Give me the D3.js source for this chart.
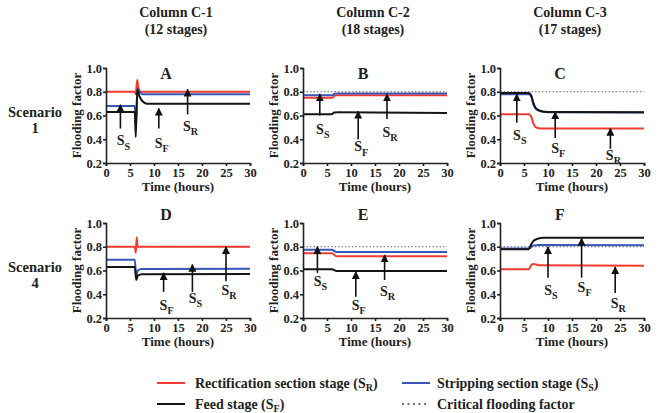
<!DOCTYPE html>
<html>
<head>
<meta charset="utf-8">
<script src="https://cdn.jsdelivr.net/npm/d3@7"></script>
<style>
  body { margin: 0; background: #fff; }
  svg text { font-family: "Liberation Serif", "Times New Roman", serif; font-weight: bold; fill: #222; }
</style>
</head>
<body>
<div id="vis"></div>
<script>
// ---- data (time in hours, flooding factor) ----
var columnTitles = ["Column C-1", "Column C-2", "Column C-3"];
var columnStages = ["(12 stages)", "(18 stages)", "(17 stages)"];
var scenarioNames = ["1", "4"];
var panelLetters = ["A", "B", "C", "D", "E", "F"];
var xTicks = [0, 5, 10, 15, 20, 25, 30];
var yTicks = [0.2, 0.4, 0.6, 0.8, 1.0];
var criticalFlooding = 0.8;

// scenario 1
var A_rect = [[0,0.80],[6,0.80],[6.2,0.78],[6.5,0.90],[6.8,0.82],[7.2,0.80],[30,0.80]];
var A_strip = [[0,0.68],[6,0.68],[6.2,0.50],[6.6,0.83],[7.0,0.80],[7.5,0.78],[30,0.78]];
var A_feed = [[0,0.63],[6,0.63],[6.2,0.42],[6.5,0.82],[7.0,0.76],[7.6,0.72],[8.5,0.70],[30,0.70]];

var B_rect = [[0,0.75],[6,0.75],[6.8,0.77],[30,0.77]];
var B_strip = [[0,0.77],[6,0.77],[6.8,0.785],[30,0.785]];
var B_feed = [[0,0.61],[6,0.61],[6.5,0.625],[7.5,0.628],[30,0.622]];

var C_rect = [[0,0.61],[6,0.61],[6.5,0.59],[7,0.53],[7.5,0.50],[8.5,0.49],[30,0.49]];
var C_strip = [[0,0.78],[6,0.78],[6.5,0.76],[7,0.69],[7.5,0.655],[8.5,0.635],[10,0.627],[30,0.625]];
var C_feed = [[0,0.79],[6,0.79],[6.5,0.77],[7,0.70],[7.5,0.66],[8.5,0.638],[10,0.63],[30,0.627]];

// scenario 4
var D_rect = [[0,0.80],[6,0.80],[6.2,0.75],[6.4,0.88],[6.6,0.80],[30,0.80]];
var D_strip = [[0,0.69],[6,0.69],[6.3,0.55],[6.6,0.60],[7.5,0.612],[30,0.615]];
var D_feed = [[0,0.63],[6,0.63],[6.3,0.52],[6.6,0.555],[7.5,0.568],[30,0.57]];

var E_rect = [[0,0.745],[6,0.745],[7,0.72],[30,0.72]];
var E_strip = [[0,0.775],[6,0.775],[7,0.755],[30,0.755]];
var E_feed = [[0,0.61],[6,0.61],[7,0.595],[30,0.595]];

var F_rect = [[0,0.61],[6,0.61],[6.5,0.645],[7,0.655],[8,0.645],[30,0.64]];
var F_strip = [[0,0.785],[6,0.785],[7,0.81],[8,0.815],[30,0.812]];
var F_feed = [[0,0.78],[6,0.78],[6.5,0.82],[7,0.85],[8,0.87],[9,0.875],[30,0.875]];

// arrow annotations: [time, tip value, tail value, label value, subscript]
var A_arrows = [[3,0.69,0.49,0.39,"S"],[11,0.66,0.49,0.37,"F"],[17,0.82,0.61,0.51,"R"]];
var B_arrows = [[3.5,0.78,0.60,0.49,"S"],[11.5,0.635,0.40,0.34,"F"],[17.5,0.78,0.57,0.46,"R"]];
var C_arrows = [[3.5,0.78,0.54,0.44,"S"],[11.5,0.63,0.41,0.33,"F"],[23,0.49,0.32,0.27,"R"]];
var D_arrows = [[12,0.58,0.42,0.31,"F"],[18,0.65,0.42,0.37,"S"],[25,0.80,0.51,0.44,"R"]];
var E_arrows = [[3,0.80,0.58,0.51,"S"],[11,0.59,0.38,0.31,"F"],[17,0.73,0.52,0.43,"R"]];
var F_arrows = [[10,0.80,0.54,0.44,"S"],[17,0.87,0.54,0.46,"F"],[24,0.63,0.41,0.33,"R"]];

var panelSeries = [
  [A_rect, A_strip, A_feed], [B_rect, B_strip, B_feed], [C_rect, C_strip, C_feed],
  [D_rect, D_strip, D_feed], [E_rect, E_strip, E_feed], [F_rect, F_strip, F_feed]
];
var panelArrows = [A_arrows, B_arrows, C_arrows, D_arrows, E_arrows, F_arrows];

// ---- layout ----
var width = 664, height = 413;
var colX = [106, 303, 500];
var rowY = [68, 223];
var plotW = 144, plotH = 95;
var lineColors = ["#f23a2e", "#3656b8", "#151515"];

var svg = d3.select("#vis").append("svg")
  .attr("width", width).attr("height", height);

var defs = svg.append("defs");
defs.append("marker")
  .attr("id", "arrowHead")
  .attr("viewBox", "0 0 10 10")
  .attr("refX", 9).attr("refY", 5)
  .attr("markerWidth", 5).attr("markerHeight", 5)
  .attr("markerUnits", "strokeWidth")
  .attr("orient", "auto")
  .append("path").attr("d", "M0,0 L10,5 L0,10 z").attr("fill", "#111");

// column headers
columnTitles.forEach(function(t, i) {
  var cx = colX[i] + plotW / 2 - 2;
  svg.append("text").attr("x", cx).attr("y", 17).attr("text-anchor", "middle")
    .style("font-size", "14px").text(t);
  svg.append("text").attr("x", cx).attr("y", 34).attr("text-anchor", "middle")
    .style("font-size", "14px").text(columnStages[i]);
});

// scenario labels
scenarioNames.forEach(function(s, r) {
  var cy = rowY[r] + 46;
  svg.append("text").attr("x", 35).attr("y", cy + 3).attr("text-anchor", "middle")
    .style("font-size", "14.5px").text("Scenario");
  svg.append("text").attr("x", 35).attr("y", cy + 19).attr("text-anchor", "middle")
    .style("font-size", "14.5px").text(s);
});

function subLabel(sel, x, y, main, sub, size) {
  var t = sel.append("text").attr("x", x).attr("y", y).attr("text-anchor", "middle")
    .style("font-size", size + "px");
  t.append("tspan").text(main);
  t.append("tspan").attr("dy", size * 0.3).style("font-size", (size * 0.72) + "px").text(sub);
  return t;
}

panelSeries.forEach(function(series, p) {
  var r = Math.floor(p / 3), c = p % 3;
  var g = svg.append("g").attr("transform", "translate(" + colX[c] + "," + rowY[r] + ")");

  var x = d3.scaleLinear().domain([0, 30]).range([0, plotW]);
  var y = d3.scaleLinear().domain([0.2, 1.0]).range([plotH, 0]);

  // critical flooding factor
  g.append("line")
    .attr("x1", x(0)).attr("x2", x(30))
    .attr("y1", y(criticalFlooding)).attr("y2", y(criticalFlooding))
    .attr("stroke", "#666").attr("stroke-width", 1.2)
    .attr("stroke-dasharray", "1.5,2");

  var line = d3.line()
    .x(function(d) { return x(d[0]); })
    .y(function(d) { return y(d[1]); })
    .curve(d3.curveMonotoneX);

  series.forEach(function(s, k) {
    g.append("path").datum(s)
      .attr("d", line)
      .attr("fill", "none")
      .attr("stroke", lineColors[k])
      .attr("stroke-width", 2);
  });

  // axes
  var xAxis = g.append("g").attr("transform", "translate(0," + plotH + ")")
    .call(d3.axisBottom(x).tickValues(xTicks).tickSize(3).tickPadding(2));
  var yAxis = g.append("g")
    .call(d3.axisLeft(y).tickValues(yTicks).tickFormat(d3.format(".1f")).tickSize(3).tickPadding(1));
  [xAxis, yAxis].forEach(function(a) {
    a.selectAll("path, line").attr("stroke", "#222").attr("stroke-width", 1.6);
    a.selectAll("text").style("font-size", "12.5px")
      .style("font-family", "'Liberation Serif', serif").style("font-weight", "bold").attr("fill", "#222");
  });

  g.append("text").attr("x", plotW / 2).attr("y", plotH + 28).attr("text-anchor", "middle")
    .style("font-size", "13px").text("Time (hours)");
  g.append("text").attr("transform", "translate(-25," + (plotH / 2) + ") rotate(-90)")
    .attr("text-anchor", "middle").style("font-size", "13px").text("Flooding factor");

  // panel letter
  g.append("text").attr("x", x(12.5)).attr("y", r === 0 ? 11 : -3).attr("text-anchor", "middle")
    .style("font-size", "16px").text(panelLetters[p]);

  // arrows
  panelArrows[p].forEach(function(a) {
    g.append("line")
      .attr("x1", x(a[0])).attr("x2", x(a[0]))
      .attr("y1", y(a[2])).attr("y2", y(a[1]))
      .attr("stroke", "#111").attr("stroke-width", 1.6)
      .attr("marker-end", "url(#arrowHead)");
    subLabel(g, x(a[0]) + 3, y(a[3]) + 5, "S", a[4], 14);
  });
});

// legend
var legend = svg.append("g");
var legendItems = [
  {x: 157, y: 383, color: lineColors[0], dash: null, main: "Rectification section stage (S", sub: "R"},
  {x: 402, y: 383, color: lineColors[1], dash: null, main: "Stripping section stage (S", sub: "S"},
  {x: 157, y: 404, color: lineColors[2], dash: null, main: "Feed stage (S", sub: "F"},
  {x: 402, y: 404, color: "#444", dash: "2,3.5", main: "Critical flooding factor", sub: null}
];
legendItems.forEach(function(it) {
  legend.append("line")
    .attr("x1", it.x).attr("x2", it.x + (it.dash ? 24 : 28))
    .attr("y1", it.y).attr("y2", it.y)
    .attr("stroke", it.color).attr("stroke-width", it.dash ? 1.6 : 2)
    .attr("stroke-dasharray", it.dash);
  var t = legend.append("text").attr("x", it.x + (it.x > 300 ? 35 : 38)).attr("y", it.y + 4.5)
    .style("font-size", "14px");
  t.append("tspan").text(it.main);
  if (it.sub) {
    t.append("tspan").attr("dy", 3).style("font-size", "10px").text(it.sub);
    t.append("tspan").attr("dy", -3).text(")");
  }
});
</script>
</body>
</html>
